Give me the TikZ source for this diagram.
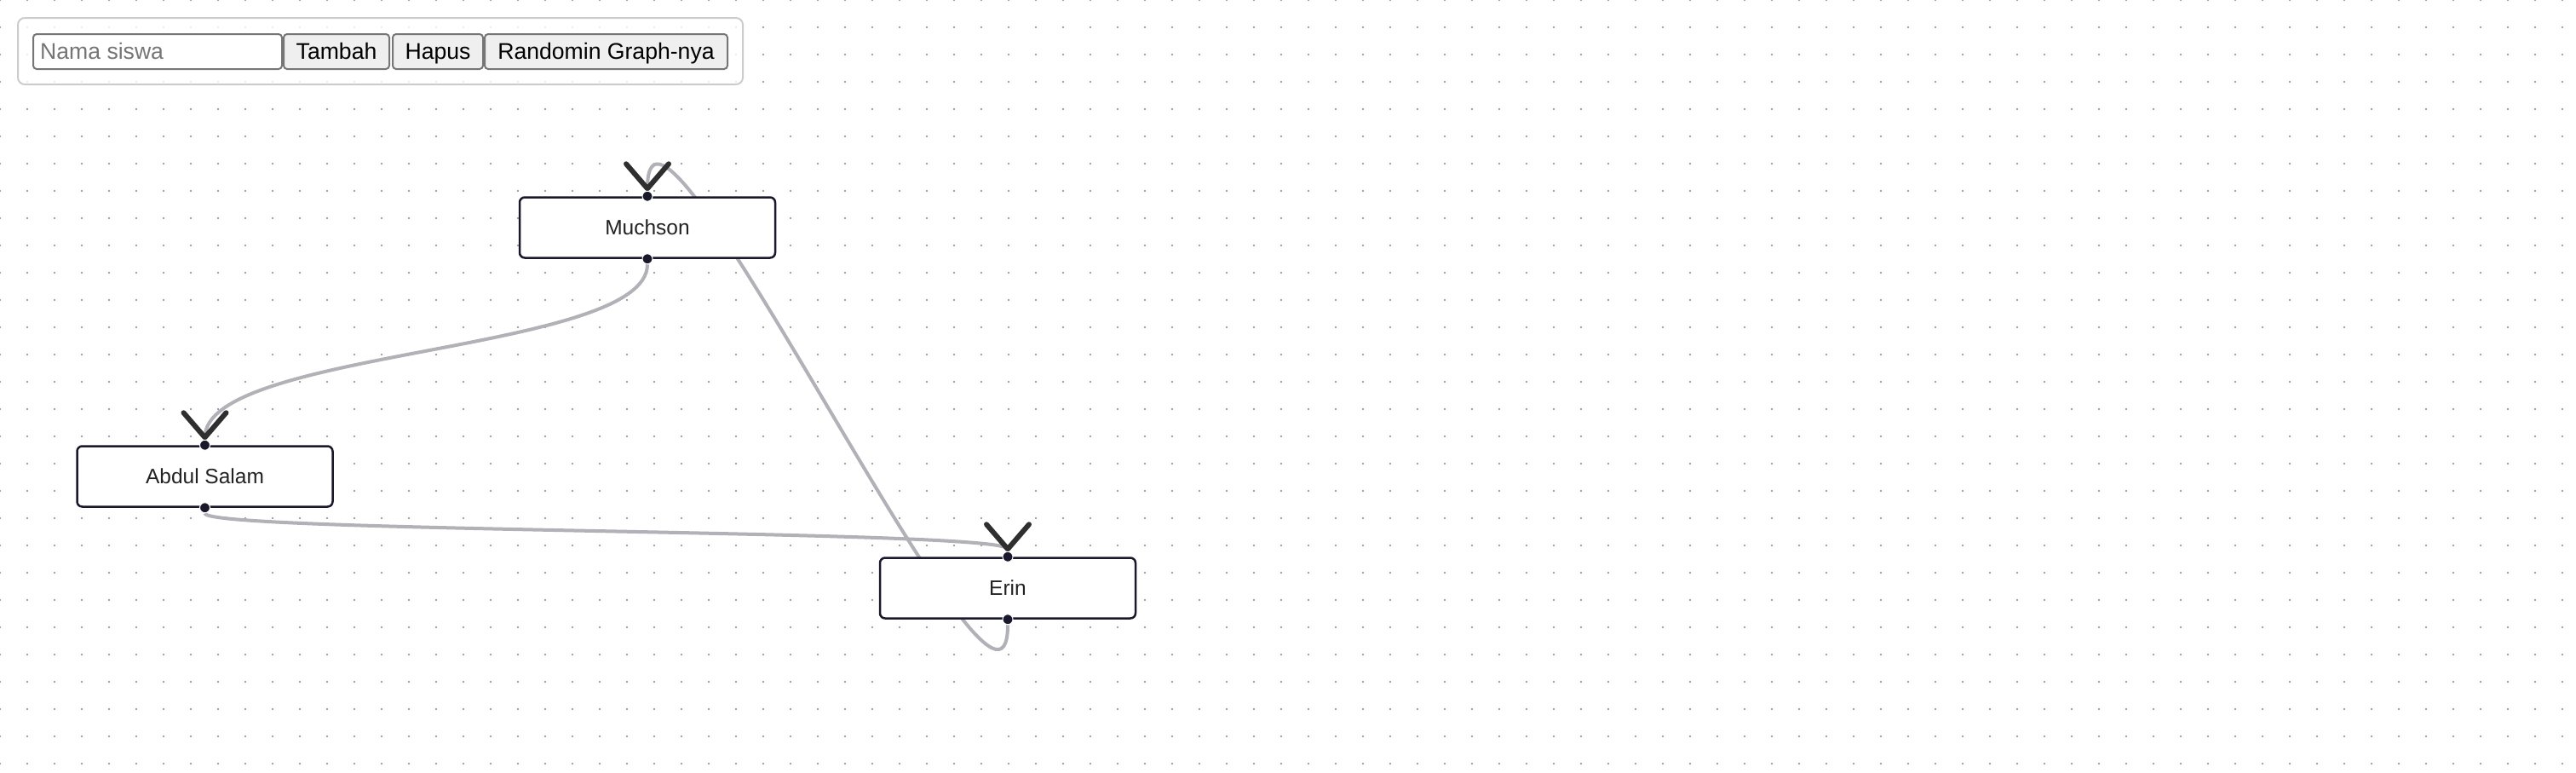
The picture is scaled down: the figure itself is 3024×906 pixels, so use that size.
\documentclass[tikz,border=0pt]{standalone}
\usepackage{fontspec}
\setmainfont{Liberation Sans}
\usetikzlibrary{calc}
\definecolor{nodeborder}{HTML}{1A192B}
\definecolor{edgegray}{HTML}{B1B1B7}
\definecolor{markc}{HTML}{2F2F2F}
\definecolor{dotc}{HTML}{A0A0A6}
\definecolor{panelborder}{HTML}{CCCCCC}
\definecolor{btnborder}{HTML}{767676}
\definecolor{btnfill}{HTML}{EFEFEF}
\definecolor{placeholder}{HTML}{757575}
\definecolor{labeltext}{HTML}{222222}
\pgfdeclarelayer{gridlayer}
\pgfdeclarelayer{edgelayer}
\pgfsetlayers{gridlayer,edgelayer,main}
\begin{document}
\begin{tikzpicture}[x=1pt,y=-1pt,
  nodebox/.style={draw=nodeborder, line width=2.5pt, fill=white, rounded corners=6pt,
    minimum width=300pt, minimum height=71pt, inner sep=0pt, text=labeltext,
    text height=17.5pt, text depth=0pt, font=\fontsize{24.5}{29}\selectfont},
  handle/.style={circle, fill=nodeborder, draw=white, line width=1pt, minimum size=12pt, inner sep=0pt},
  linkline/.style={draw=edgegray, line width=4pt},
  vmark/.style={draw=markc, line width=6pt, line cap=round, line join=round},
  panelbox/.style={draw=panelborder, line width=2pt, fill=white, fill opacity=0.8, rounded corners=8pt},
  inputbox/.style={draw=btnborder, line width=2pt, fill=white, rounded corners=4pt,
    minimum height=41pt, inner sep=0pt},
  btn/.style={draw=btnborder, line width=2pt, fill=btnfill, rounded corners=4pt,
    minimum height=41pt, inner sep=0pt, text height=19.4pt, text depth=2.4pt,
    font=\fontsize{26.6}{32}\selectfont},
  placeholdertext/.style={text=placeholder, inner sep=0pt, font=\fontsize{26.6}{32}\selectfont}
]
\useasboundingbox (0,0) rectangle (3024,906);

% dotted background
\begin{pgfonlayer}{gridlayer}
\fill[white] (0,0) rectangle (3024,906);
\foreach \i in {0,...,94}{
  \foreach \j in {0,...,28}{
    \fill[dotc] (32*\i-1,32*\j-1) rectangle ++(2,2);
  }
}
\end{pgfonlayer}

% toolbar
\draw[panelbox] (21,21) rectangle (872,99);
\node[inputbox, minimum width=292pt] (inp) at (185,60.5) {};
\node[placeholdertext, anchor=base west] (inptext) at (47,69) {Nama siswa};
\node[btn, minimum width=124pt] (tambah) at (395,60.5) {Tambah};
\node[btn, minimum width=106pt] (hapus) at (514,60.5) {Hapus};
\node[btn, minimum width=285pt] (random) at (711.5,60.5) {Randomin Graph-nya};

% graph nodes
\node[nodebox] (mu) at (760,267) {Muchson};
\node[nodebox] (ab) at (240.5,559) {Abdul Salam};
\node[nodebox] (er) at (1183,690) {Erin};

% arrow tips
\coordinate (mu-tip) at ($(mu.north)+(0,-9)$);
\coordinate (ab-tip) at ($(ab.north)+(0,-9)$);
\coordinate (er-tip) at ($(er.north)+(0,-9)$);
\draw[vmark] ($(mu-tip)+(-25,-29)$) -- (mu-tip) -- ($(mu-tip)+(25,-29)$);
\draw[vmark] ($(ab-tip)+(-25,-29)$) -- (ab-tip) -- ($(ab-tip)+(25,-29)$);
\draw[vmark] ($(er-tip)+(-25,-29)$) -- (er-tip) -- ($(er-tip)+(25,-29)$);

% handles
\node[handle] (mu-t) at (mu.north) {};
\node[handle] (mu-b) at (mu.south) {};
\node[handle] (ab-t) at (ab.north) {};
\node[handle] (ab-b) at (ab.south) {};
\node[handle] (er-t) at (er.north) {};
\node[handle] (er-b) at (er.south) {};

% edges
\begin{pgfonlayer}{edgelayer}
\draw[linkline] (mu-b.south) .. controls +(0,104) and +(0,-104) .. (ab-tip);
\draw[linkline] (ab-b.south) .. controls +(0,23) and +(0,-23) .. (er-tip);
\draw[linkline] (er-b.south) .. controls +(0,200) and +(0,-200) .. (mu-tip);
\end{pgfonlayer}
\end{tikzpicture}
\end{document}
